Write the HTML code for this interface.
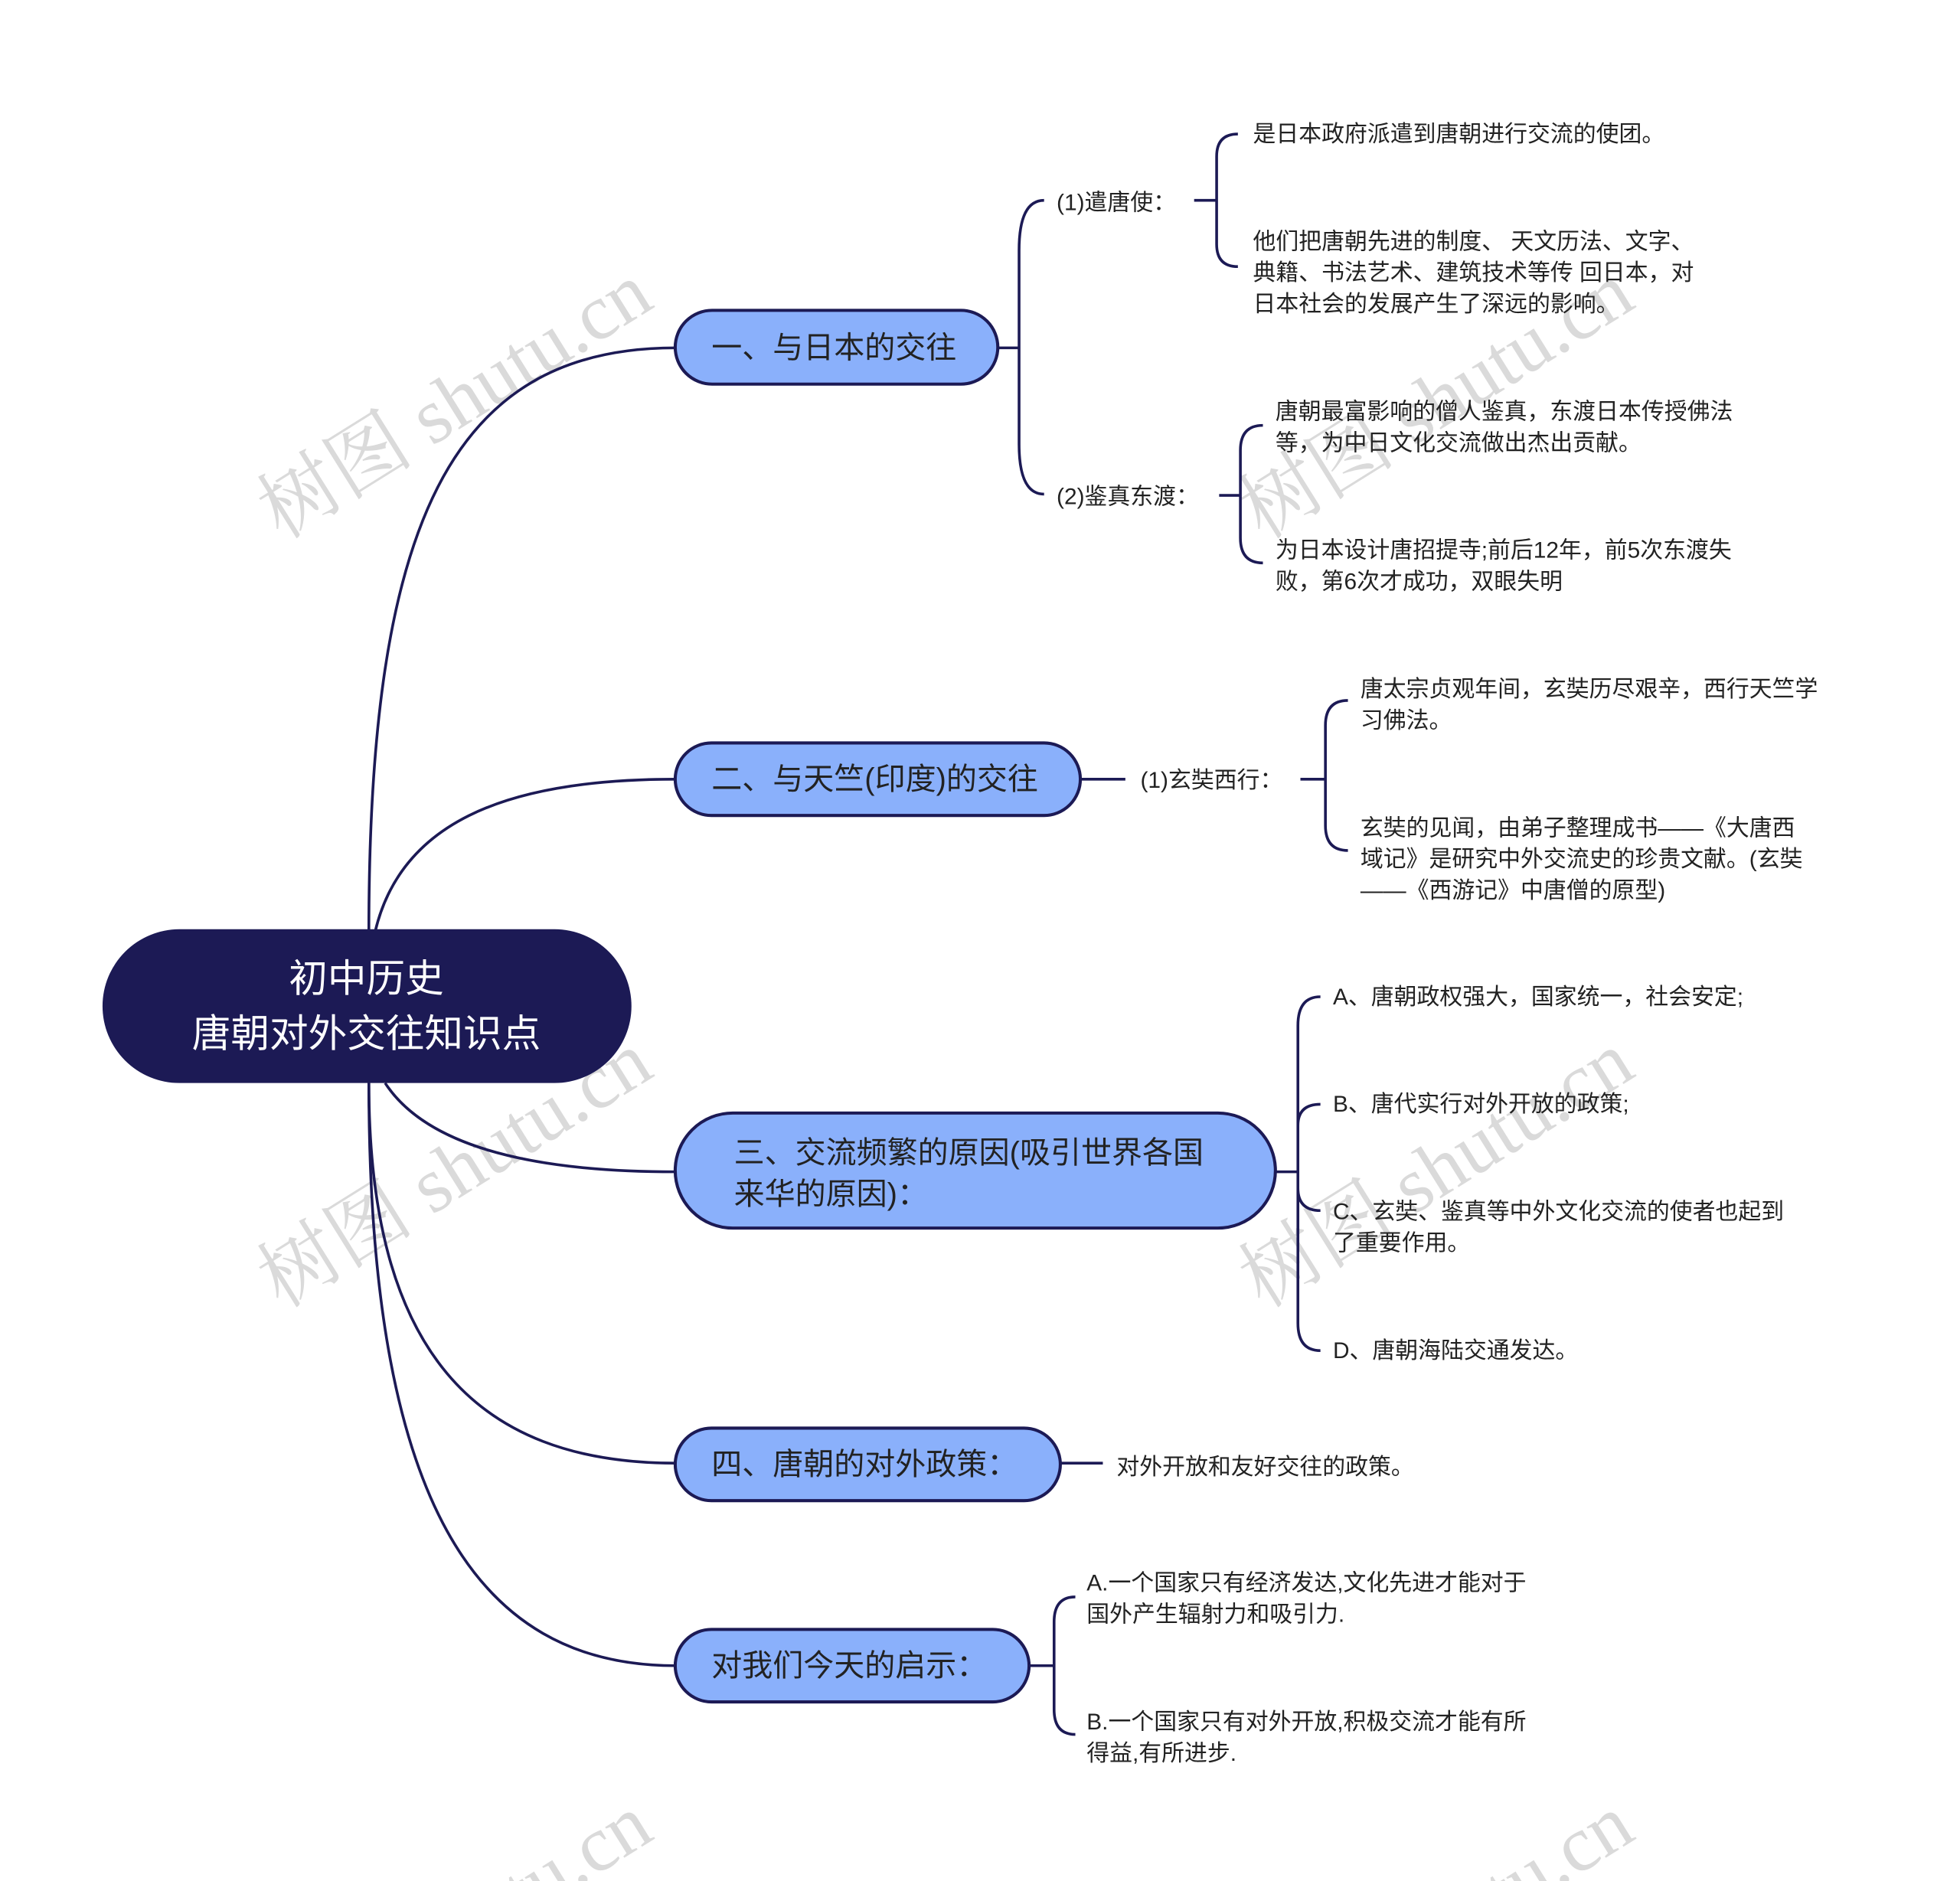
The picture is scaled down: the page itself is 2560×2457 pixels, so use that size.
<!DOCTYPE html>
<html><head><meta charset="utf-8"><style>
html,body{margin:0;padding:0;background:#fff;overflow:hidden;width:2560px;height:2457px;}
svg{display:block;}
text{font-family:"Liberation Sans","Noto Sans CJK SC",sans-serif;fill:#222;}
.wm text{font-family:"Liberation Serif","Noto Serif CJK SC",serif;fill:#dadada;font-size:63px;}
.n{fill:#8ab0fb;stroke:#1c1a55;stroke-width:2.5;}
.l{fill:none;stroke:#1c1a55;stroke-width:2.2;}
.t{font-size:18.3px;}
.b{font-size:24.5px;fill:#222;}
</style></head><body>
<svg width="2560" height="2457" viewBox="0 0 1567.5 1504" xmlns="http://www.w3.org/2000/svg">
<g class="wm">
<text transform="translate(225,432) rotate(-32)">树图 shutu.cn</text>
<text transform="translate(225,1047) rotate(-32)">树图 shutu.cn</text>
<text transform="translate(1010,432) rotate(-32)">树图 shutu.cn</text>
<text transform="translate(1010,1047) rotate(-32)">树图 shutu.cn</text>
<text transform="translate(225,1657) rotate(-32)">树图 shutu.cn</text>
<text transform="translate(1010,1657) rotate(-32)">树图 shutu.cn</text>
</g>
<path class="l" d="M295 745 C295 420 360 278 540 278"/>
<path class="l" d="M300 745 C320 660 400 623 540 623"/>
<path class="l" d="M308 866 C340 915 420 937 540 937"/>
<path class="l" d="M295 866 C295 1080 380 1170 540 1170"/>
<path class="l" d="M295 866 C295 1200 380 1332 540 1332"/>
<rect x="82" y="743" width="423" height="123" rx="61.5" fill="#1c1a55"/>
<text x="293" y="793" text-anchor="middle" style="fill:#fff;font-size:31px">初中历史</text>
<text x="293" y="837" text-anchor="middle" style="fill:#fff;font-size:31px">唐朝对外交往知识点</text>
<path class="l" d="M798 278 H815 M835 160 Q815 160 815 200 V355 Q815 395 835 395"/>
<path class="l" d="M955 160 H973 M990 107 Q973 107 973 125 V195 Q973 213 990 213"/>
<path class="l" d="M975 396 H992 M1010 340 Q992 340 992 360 V430 Q992 450 1010 450"/>
<rect class="n" x="540" y="248" width="258" height="59" rx="29.5"/>
<text class="b" x="569" y="286">一、与日本的交往</text>
<text class="t" x="845" y="168">(1)遣唐使：</text>
<text class="t" x="845" y="403">(2)鉴真东渡：</text>
<text class="t" x="1002" y="113">是日本政府派遣到唐朝进行交流的使团。</text>
<text class="t" x="1002" y="199">他们把唐朝先进的制度、 天文历法、文字、</text>
<text class="t" x="1002" y="224">典籍、书法艺术、建筑技术等传 回日本，对</text>
<text class="t" x="1002" y="249">日本社会的发展产生了深远的影响。</text>
<text class="t" x="1020" y="335">唐朝最富影响的僧人鉴真，东渡日本传授佛法</text>
<text class="t" x="1020" y="360">等，为中日文化交流做出杰出贡献。</text>
<text class="t" x="1020" y="446">为日本设计唐招提寺;前后12年，前5次东渡失</text>
<text class="t" x="1020" y="471">败，第6次才成功，双眼失明</text>
<path class="l" d="M864 623 H900 M1040 623 H1060 M1078 560 Q1060 560 1060 580 V660 Q1060 680 1078 680"/>
<rect class="n" x="540" y="594" width="324" height="58" rx="29"/>
<text class="b" x="569" y="631">二、与天竺(印度)的交往</text>
<text class="t" x="912" y="630">(1)玄奘西行：</text>
<text class="t" x="1088" y="557">唐太宗贞观年间，玄奘历尽艰辛，西行天竺学</text>
<text class="t" x="1088" y="582">习佛法。</text>
<text class="t" x="1088" y="668">玄奘的见闻，由弟子整理成书——《大唐西</text>
<text class="t" x="1088" y="693">域记》是研究中外交流史的珍贵文献。(玄奘</text>
<text class="t" x="1088" y="718">——《西游记》中唐僧的原型)</text>
<path class="l" d="M1020 937 H1038 M1056 797 Q1038 797 1038 820 V1058 Q1038 1080 1056 1080 M1056 883 Q1038 883 1038 900 M1056 968 Q1038 968 1038 950"/>
<rect class="n" x="540" y="890" width="480" height="92" rx="46"/>
<text class="b" x="587" y="930">三、交流频繁的原因(吸引世界各国</text>
<text class="b" x="587" y="963">来华的原因)：</text>
<text class="t" x="1066" y="803">A、唐朝政权强大，国家统一，社会安定;</text>
<text class="t" x="1066" y="889">B、唐代实行对外开放的政策;</text>
<text class="t" x="1066" y="975">C、玄奘、鉴真等中外文化交流的使者也起到</text>
<text class="t" x="1066" y="1000">了重要作用。</text>
<text class="t" x="1066" y="1086">D、唐朝海陆交通发达。</text>
<path class="l" d="M848 1170 H882"/>
<rect class="n" x="540" y="1142" width="308" height="58" rx="29"/>
<text class="b" x="569" y="1179">四、唐朝的对外政策：</text>
<text class="t" x="893" y="1179">对外开放和友好交往的政策。</text>
<path class="l" d="M823 1332 H843 M860 1277 Q843 1277 843 1297 V1367 Q843 1387 860 1387"/>
<rect class="n" x="540" y="1303" width="283" height="58" rx="29"/>
<text class="b" x="569" y="1340">对我们今天的启示：</text>
<text class="t" x="869" y="1272">A.一个国家只有经济发达,文化先进才能对于</text>
<text class="t" x="869" y="1297">国外产生辐射力和吸引力.</text>
<text class="t" x="869" y="1383">B.一个国家只有对外开放,积极交流才能有所</text>
<text class="t" x="869" y="1408">得益,有所进步.</text>
</svg>
</body></html>
